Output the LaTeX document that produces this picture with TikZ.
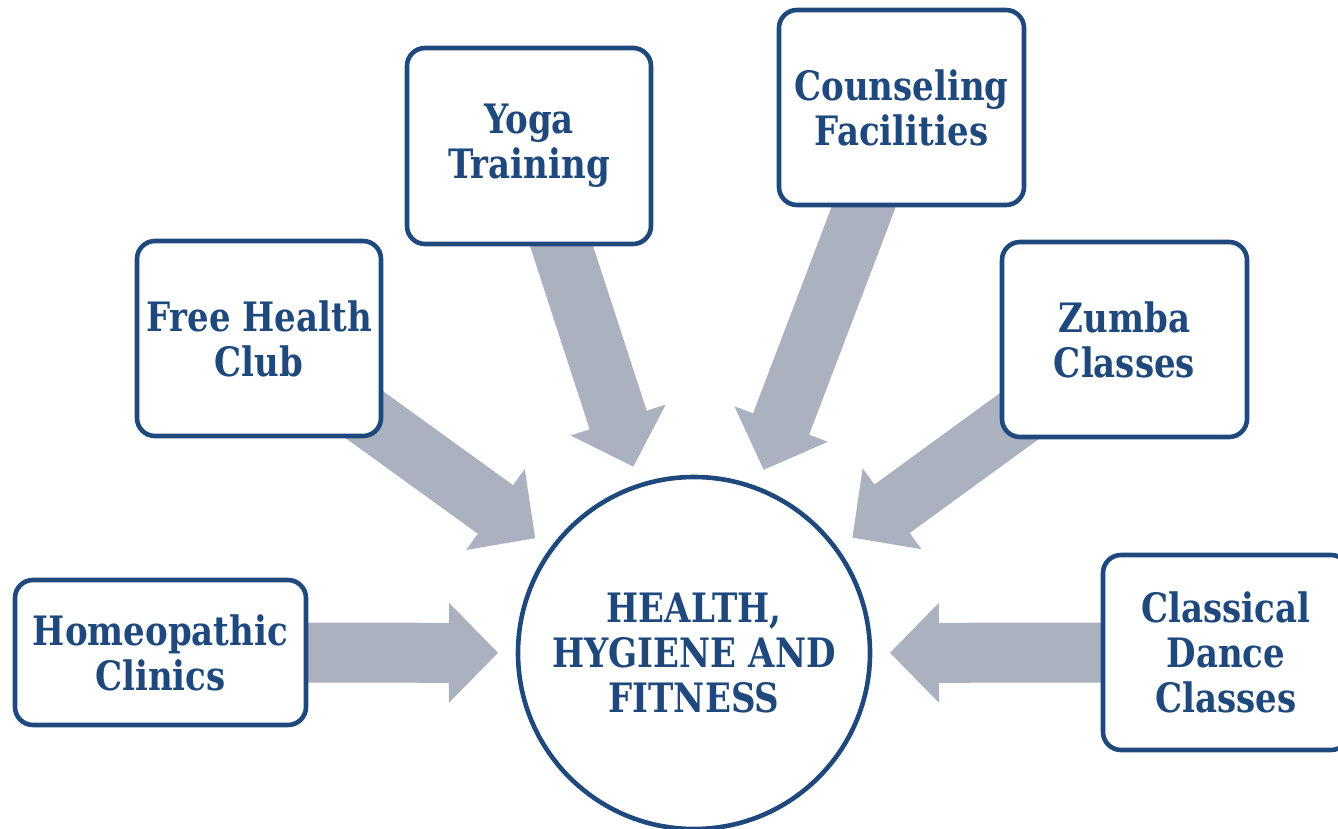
\documentclass[tikz,border=0pt]{standalone}
\usepackage{fontspec}
\setmainfont{DejaVu Serif}[FakeStretch=0.84]
\usetikzlibrary{calc,backgrounds}
\definecolor{navy}{RGB}{31,73,125}
\definecolor{arrowgray}{RGB}{172,177,191}
\newcommand\blockarrow[2]{%
  \coordinate (T) at ($(#2.center)!196pt!(#1.center)$);
  \coordinate (A) at (#1.center);
  \coordinate (B) at ($(T)!49pt!(A)$);
  \fill[arrowgray] ($(A)!30pt!90:(T)$) -- ($(B)!30pt!90:(T)$) -- ($(B)!50pt!90:(T)$) -- (T)
    -- ($(B)!50pt!-90:(T)$) -- ($(B)!30pt!-90:(T)$) -- ($(A)!30pt!-90:(T)$) -- cycle;
}
\begin{document}
\begin{tikzpicture}[x=1pt,y=-1pt,
  txt/.style={text=navy,align=center,font=\bfseries\fontsize{40.5}{45}\selectfont},
  box/.style={txt,draw=navy,line width=4.6pt,fill=white,rounded corners=18pt,inner sep=0pt},
  hubstyle/.style={txt,circle,draw=navy,line width=4.6pt,fill=white,minimum size=352pt,inner sep=0pt}]
\useasboundingbox (0,0) rectangle (1338,829);
\node[hubstyle] (hub) at (694,653) {HEALTH,\\HYGIENE AND\\FITNESS};
\node[box,minimum width=291pt,minimum height=145pt] (homeo) at (160.5,652.5) {Homeopathic\\Clinics};
\node[box,minimum width=244pt,minimum height=195pt] (free) at (259,338.5) {Free Health\\Club};
\node[box,minimum width=244pt,minimum height=196pt] (yoga) at (529,146) {Yoga\\Training};
\node[box,minimum width=245pt,minimum height=195pt] (couns) at (901.5,107.5) {Counseling\\Facilities};
\node[box,minimum width=245pt,minimum height=195pt] (zumba) at (1124.5,339.5) {Zumba\\Classes};
\node[box,minimum width=246pt,minimum height=195pt] (dance) at (1226,652.5) {Classical\\Dance\\Classes};
\begin{scope}[on background layer]
\blockarrow{homeo}{hub}
\blockarrow{free}{hub}
\blockarrow{yoga}{hub}
\blockarrow{couns}{hub}
\blockarrow{zumba}{hub}
\blockarrow{dance}{hub}
\end{scope}
\end{tikzpicture}
\end{document}
